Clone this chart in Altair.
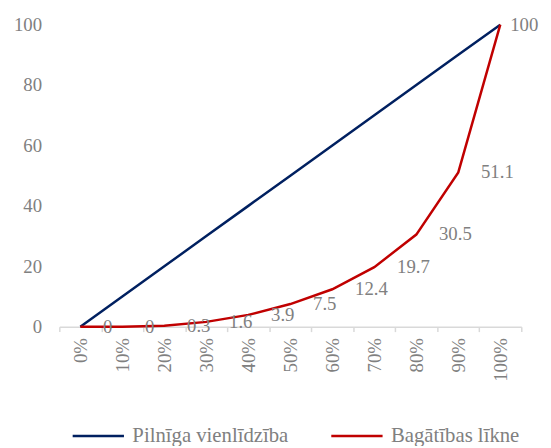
import altair as alt
import pandas as pd

categories = ["0%", "10%", "20%", "30%", "40%", "50%", "60%", "70%", "80%", "90%", "100%"]
equality = [0, 10, 20, 30, 40, 50, 60, 70, 80, 90, 100]
wealth = [0, 0, 0.3, 1.6, 3.9, 7.5, 12.4, 19.7, 30.5, 51.1, 100]
wealth_labels = ["0", "0", "0.3", "1.6", "3.9", "7.5", "12.4", "19.7", "30.5", "51.1", "100"]
series_names = ["Pilnīga vienlīdzība", "Bagātības līkne"]
series_colors = ["#002060", "#C00000"]

rows = []
for i, c in enumerate(categories):
    rows.append({"cat": c, "idx": i, "value": equality[i], "series": series_names[0], "label": ""})
for i, c in enumerate(categories):
    rows.append({"cat": c, "idx": i, "value": wealth[i], "series": series_names[1], "label": wealth_labels[i]})
df = pd.DataFrame(rows)

FONT = "Liberation Serif"
GRAY = "#808080"
FS = 19

x_enc = alt.X("cat:N", sort=categories, bandPosition=0.5,
              scale=alt.Scale(type="band", paddingInner=0, paddingOuter=0),
              axis=alt.Axis(title=None, labelAngle=270, labelFontSize=FS, labelFont=FONT,
                            labelColor=GRAY, domainColor="#d9d9d9", domainWidth=1.5,
                            tickColor="#d9d9d9", tickWidth=1.5, tickSize=5, tickBand="extent",
                            labelPadding=6, grid=False))
y_enc = alt.Y("value:Q", scale=alt.Scale(domain=[0, 100]),
              axis=alt.Axis(title=None, values=[0, 20, 40, 60, 80, 100], labelFontSize=FS,
                            labelFont=FONT, labelColor=GRAY, domain=False, ticks=False,
                            grid=False, labelPadding=18))

base = alt.Chart(df)

lines = base.mark_line(strokeWidth=2.5).encode(
    x=x_enc,
    y=y_enc,
    color=alt.Color("series:N", sort=series_names,
                    scale=alt.Scale(domain=series_names, range=series_colors),
                    legend=alt.Legend(title=None, orient="none", direction="horizontal",
                                      legendX=12, legendY=389, symbolType="stroke",
                                      symbolSize=2700, symbolStrokeWidth=2.5,
                                      labelFontSize=21, labelFont=FONT, labelColor=GRAY,
                                      labelOffset=7, columnPadding=37, padding=0,
                                      labelLimit=300)),
    detail="series:N",
)

labels_main = base.transform_filter(
    (alt.datum.series == series_names[1]) & (alt.datum.idx < 10)
).mark_text(align="left", baseline="middle", dx=23, fontSize=FS, font=FONT, color=GRAY).encode(
    x=alt.X("cat:N", sort=categories, bandPosition=0.5),
    y="value:Q",
    text="label:N",
)

labels_last = base.transform_filter(
    (alt.datum.series == series_names[1]) & (alt.datum.idx == 10)
).mark_text(align="left", baseline="middle", dx=10, fontSize=FS, font=FONT, color=GRAY).encode(
    x=alt.X("cat:N", sort=categories, bandPosition=0.5),
    y="value:Q",
    text="label:N",
)

chart = alt.layer(lines, labels_main, labels_last).properties(
    width=468, height=306,
    autosize=alt.AutoSizeParams(type="none"),
    padding={"left": 52, "top": 14, "right": 22, "bottom": 118},
).configure_view(stroke=None)

chart.save("out.html", embed_options={"renderer": "svg", "actions": False})
